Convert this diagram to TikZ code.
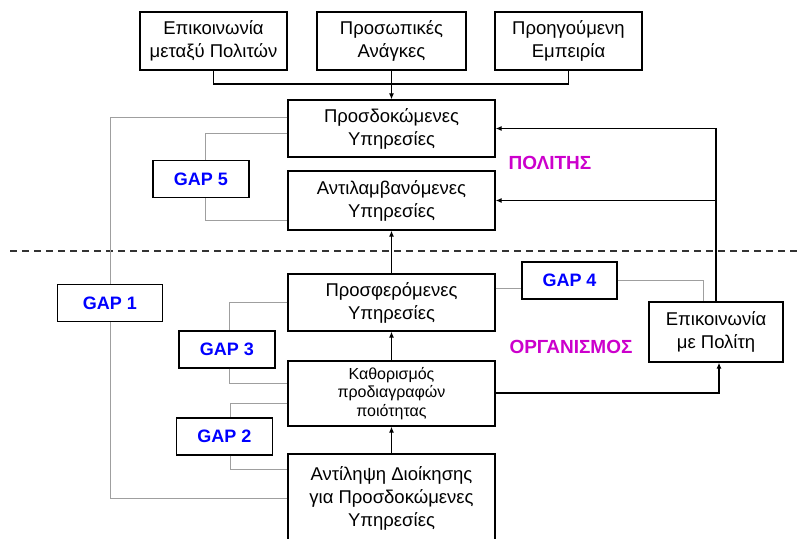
\documentclass[tikz,border=0pt]{standalone}
\usepackage{fontspec}
\setmainfont{Liberation Sans}
\usetikzlibrary{positioning,arrows.meta,calc}
\definecolor{gapblue}{RGB}{0,0,255}
\definecolor{zonemag}{RGB}{204,0,204}

\begin{document}
\begin{tikzpicture}[x=1pt,y=-1pt,
  blk/.style={draw,line width=1.3pt,minimum width=207pt,minimum height=57pt,align=center,inner sep=0pt,
    font=\fontsize{18.5}{23}\selectfont},
  gapbox/.style={draw,line width=1.3pt,minimum width=96pt,minimum height=37pt,inner sep=0pt,
    font=\fontsize{18}{20}\selectfont\bfseries,text=gapblue},
  gapln/.style={draw=gray!75,line width=0.9pt},
  sig/.style={line width=1.1pt,->,>={Latex[length=6pt,width=5pt]}},
  zone/.style={font=\fontsize{19}{21}\selectfont\bfseries,text=zonemag},
]
\useasboundingbox (0,0) rectangle (799,538);
% citizen side
\node[blk,minimum width=147pt,minimum height=58pt] (citcomm) at (213.5,41) {Επικοινωνία\\μεταξύ Πολιτών};
\node[blk,minimum width=149pt,minimum height=58pt] (needs) at (391.5,41) {Προσωπικές\\Ανάγκες};
\node[blk,minimum width=147pt,minimum height=58pt] (prior) at (568.5,41) {Προηγούμενη\\Εμπειρία};
\node[blk] (expect) at (391.5,128.5) {Προσδοκώμενες\\Υπηρεσίες};
\node[blk,minimum height=59pt] (percv) at (391.5,200.5) {Αντιλαμβανόμενες\\Υπηρεσίες};
\node[zone] (citizen) at (550,163) {ΠΟΛΙΤΗΣ};
\coordinate (join) at (391.5,84);
\draw[line width=1.1pt] (citcomm.south) |- (join) -| (prior.south);
\draw[sig] (needs) -- (expect);
% separator
\coordinate (sepL) at (10,251);
\coordinate (sepR) at (799,251);
\draw[line width=1.8pt,dash pattern=on 7pt off 5pt,black!80] (sepL) -- (sepR);
% organisation side
\node[blk] (offer) at (391.5,302.5) {Προσφερόμενες\\Υπηρεσίες};
\node[blk,minimum height=65pt,font=\fontsize{16}{18.5}\selectfont] (specs) at (391.5,393.5)
  {Καθορισμός\\προδιαγραφών\\ποιότητας};
\node[blk,minimum height=88pt] (mgmt) at (391.5,498) {Αντίληψη Διοίκησης\\για Προσδοκώμενες\\Υπηρεσίες};
\node[blk,minimum width=134pt,minimum height=60pt] (comm) at (716,332) {Επικοινωνία\\με Πολίτη};
\node[zone] (organ) at (571,347) {ΟΡΓΑΝΙΣΜΟΣ};
\draw[sig] (mgmt) -- (specs);
\draw[sig] (specs) -- (offer);
\draw[sig] (offer) -- (percv);
\draw[sig] ([yshift=0.5pt]specs.east) -| ([xshift=3pt]comm.south);
\draw[sig] (comm.north) |- (expect.east);
\draw[sig] (comm.north |- percv.east) -- (percv.east);
% gaps
\node[gapbox,minimum width=105pt] (gap1) at (110,303) {GAP 1};
\node[gapbox] (gap2) at (224.5,436.5) {GAP 2};
\node[gapbox] (gap3) at (227,349.5) {GAP 3};
\node[gapbox,minimum width=95pt] (gap4) at (569.5,280.5) {GAP 4};
\node[gapbox] (gap5) at (201,179) {GAP 5};
\draw[gapln] ([yshift=11.5pt]expect.west) -| (gap1.north);
\draw[gapln] (gap1.south) |- (mgmt.west);
\draw[gapln] ([yshift=-4.5pt]expect.west) -| ([xshift=4pt]gap5.north);
\draw[gapln] ([xshift=4pt]gap5.south) |- ([yshift=-19.5pt]percv.west);
\draw[gapln] (offer.west) -| ([xshift=2pt]gap3.north);
\draw[gapln] ([xshift=2pt]gap3.south) |- ([yshift=10.5pt]specs.west);
\draw[gapln] ([yshift=-9.5pt]specs.west) -| ([xshift=6pt]gap2.north);
\draw[gapln] ([xshift=6pt]gap2.south) |- ([yshift=29pt]mgmt.west);
\draw[gapln] ([yshift=14.5pt]offer.east) -- ([yshift=14.5pt]offer.east -| gap4.west);
\draw[gapln] (gap4.east) -| ([xshift=-13pt]comm.north);
\end{tikzpicture}
\end{document}
